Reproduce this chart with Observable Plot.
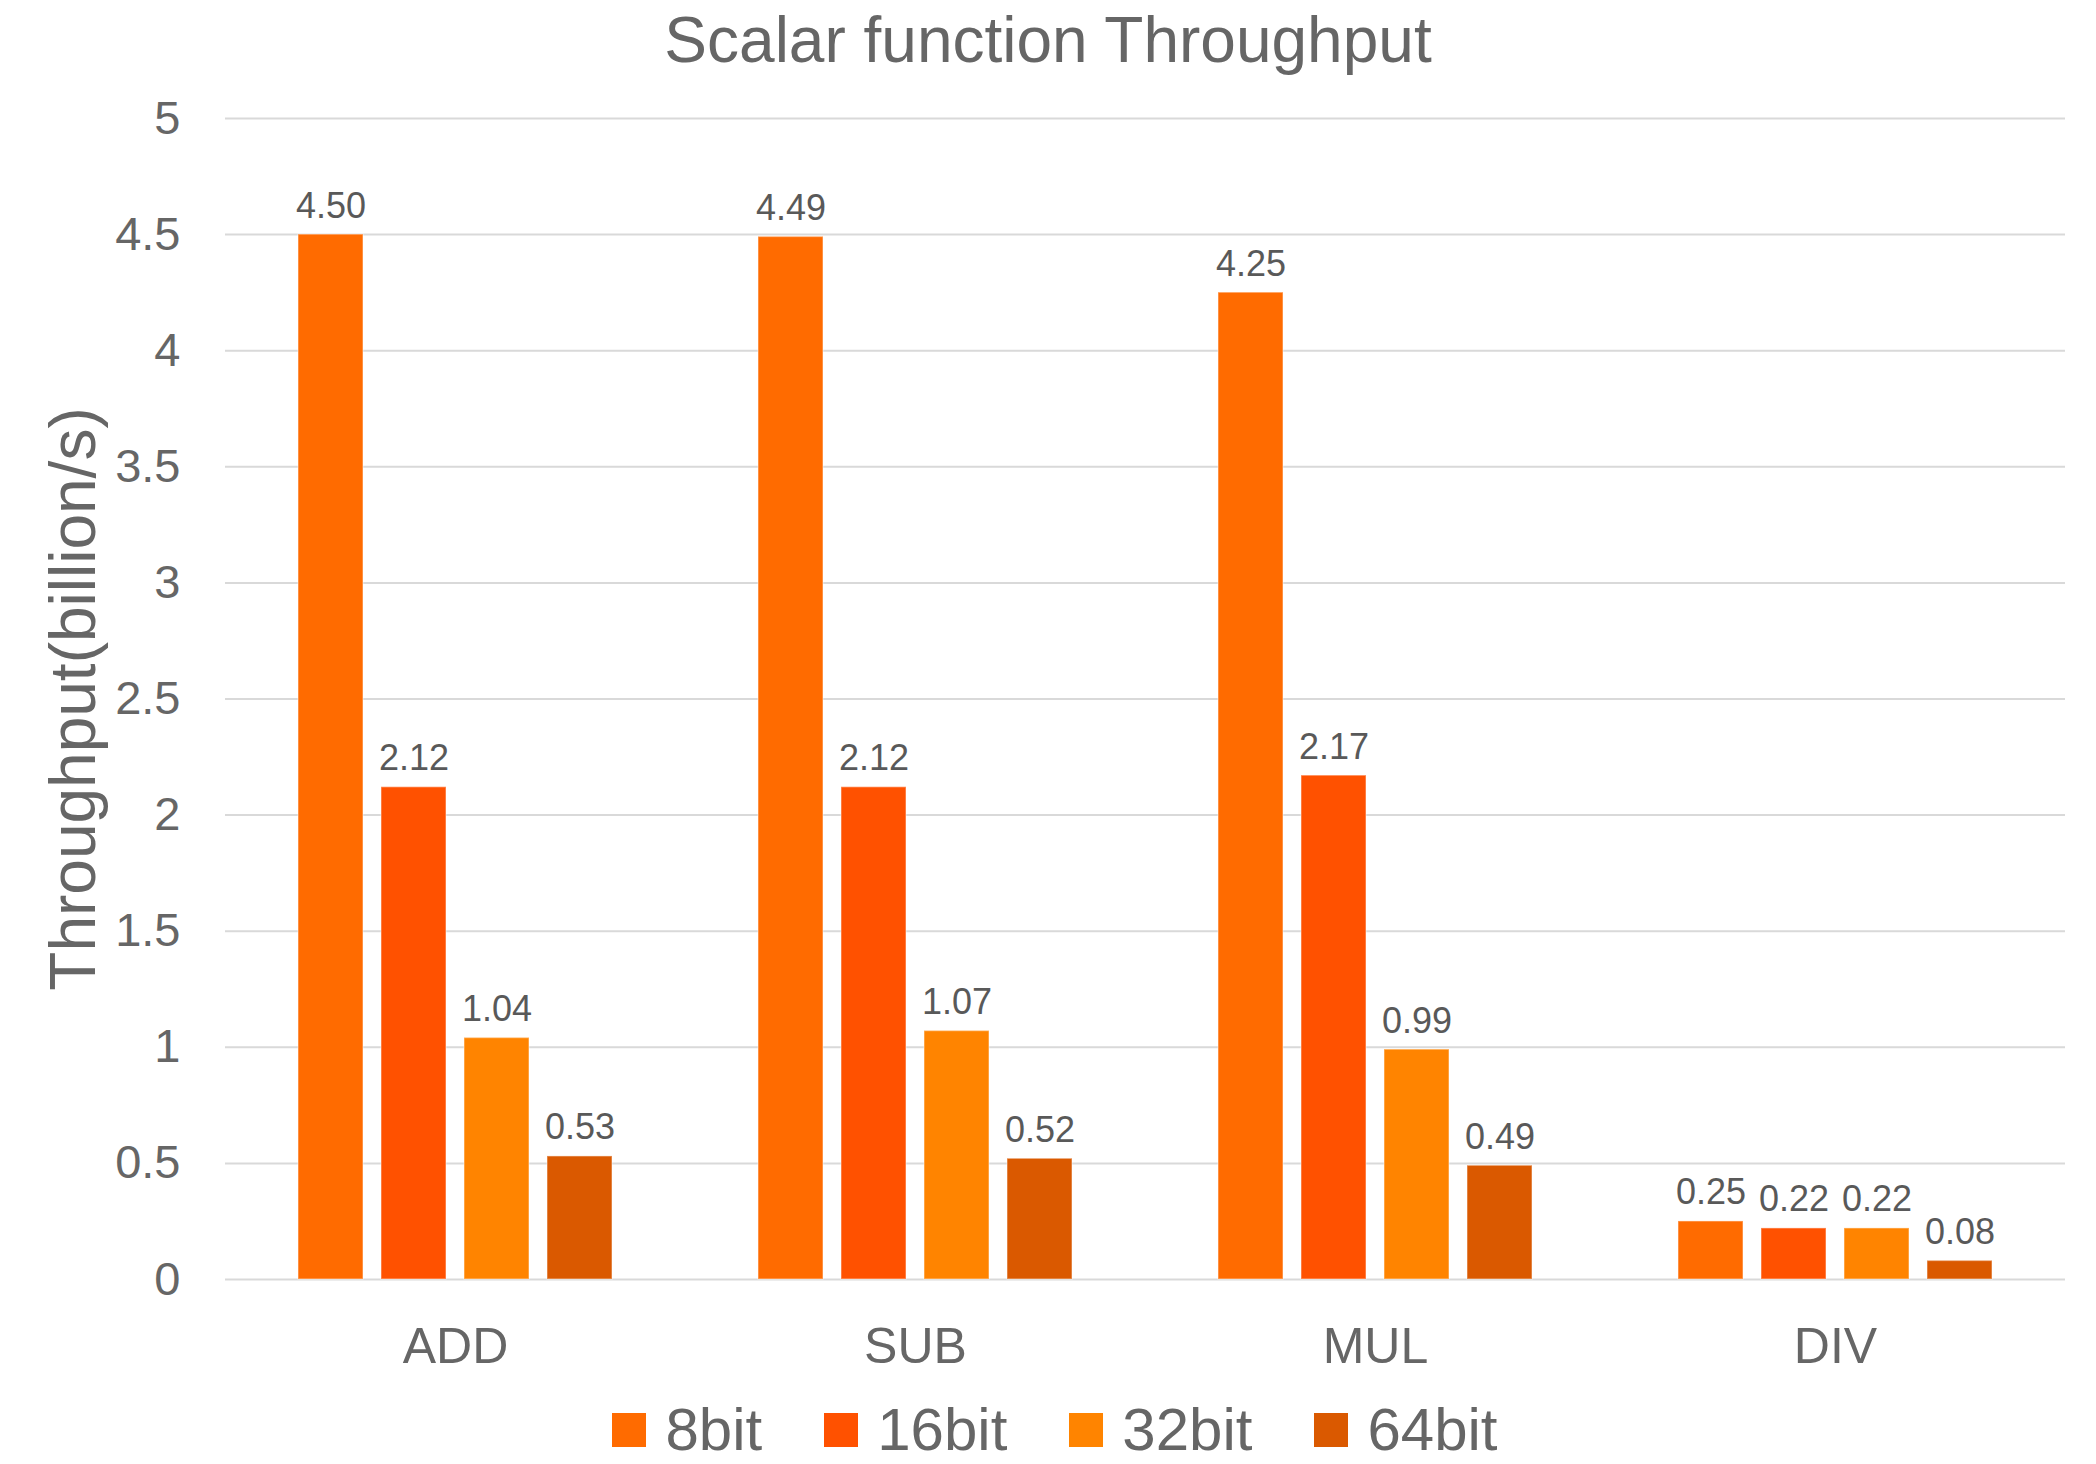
<!DOCTYPE html>
<html>
<head>
<meta charset="utf-8">
<script src="https://cdn.jsdelivr.net/npm/d3@7"></script>
<script src="https://cdn.jsdelivr.net/npm/@observablehq/plot@0.6"></script>
<style>
  html, body { margin: 0; padding: 0; background: #fff; overflow: hidden; }
  body { width: 2096px; height: 1464px; font-family: "Liberation Sans", Arial, Helvetica, sans-serif; }
  #title { height: 80px; line-height: 80px; font-size: 64px; color: #666; text-align: center; }
  #chart { height: 1320px; }
  #chart svg { display: block; }
  #legend { display: flex; justify-content: center; align-items: center; height: 60px; line-height: 60px; font-size: 60px; color: #666; padding-left: 14px; }
  .item { display: flex; align-items: center; margin: 0 31px; }
  .sw { width: 34px; height: 34px; margin-right: 19px; }
</style>
</head>
<body>
<div id="title">Scalar function Throughput</div>
<div id="chart"></div>
<div id="legend"></div>
<script>
const categories = ["ADD", "SUB", "MUL", "DIV"];
const seriesNames = ["8bit", "16bit", "32bit", "64bit"];
const colors = ["#FF6B00", "#FF5100", "#FF8400", "#DA5900"];
const values8 = [4.50, 4.49, 4.25, 0.25];
const values16 = [2.12, 2.12, 2.17, 0.22];
const values32 = [1.04, 1.07, 0.99, 0.22];
const values64 = [0.53, 0.52, 0.49, 0.08];
const yTicks = [0, 0.5, 1, 1.5, 2, 2.5, 3, 3.5, 4, 4.5, 5];
const yLabel = "Throughput(billion/s)";

const seriesValues = [values8, values16, values32, values64];
const data = [];
categories.forEach((c, i) => {
  seriesNames.forEach((s, j) => {
    data.push({category: c, series: s, value: seriesValues[j][i]});
  });
});

const chart = Plot.plot({
  width: 2096,
  height: 1320,
  marginTop: 38,
  marginBottom: 121,
  marginLeft: 225,
  marginRight: 31,
  style: {fontFamily: '"Liberation Sans", Arial, Helvetica, sans-serif', background: "#fff"},
  fx: {domain: categories, padding: 0, label: null},
  x: {domain: seriesNames, paddingInner: 0.22, paddingOuter: 0.865, axis: null},
  y: {domain: [0, 5], axis: null},
  color: {domain: seriesNames, range: colors},
  marks: [
    Plot.gridY(yTicks, {stroke: "#d9d9d9", strokeOpacity: 1, strokeWidth: 2}),
    Plot.axisY({ticks: yTicks, tickSize: 0, tickPadding: 45, fontSize: 47, fill: "#666", label: null, tickFormat: d => String(d)}),
    Plot.axisY({ticks: [], tickSize: 0, label: yLabel, labelAnchor: "center", labelOffset: 176, labelArrow: "none", fontSize: 64, fill: "#666"}),
    Plot.axisFx({anchor: "bottom", tickSize: 0, tickPadding: 48, fontSize: 50, fill: "#666", label: null}),
    Plot.barY(data, {fx: "category", x: "series", y: "value", fill: "series", stroke: "#fff", strokeOpacity: 0.35, strokeWidth: 1.5}),
    Plot.text(data, {fx: "category", x: "series", y: "value", text: d => d.value.toFixed(2), lineAnchor: "bottom", dy: -17, fontSize: 36, fill: "#595959"})
  ]
});
document.getElementById("chart").appendChild(chart);

const legend = document.getElementById("legend");
seriesNames.forEach((s, j) => {
  const item = document.createElement("div");
  item.className = "item";
  const sw = document.createElement("div");
  sw.className = "sw";
  sw.style.background = colors[j];
  const t = document.createElement("span");
  t.textContent = s;
  item.appendChild(sw);
  item.appendChild(t);
  legend.appendChild(item);
});
</script>
</body>
</html>
